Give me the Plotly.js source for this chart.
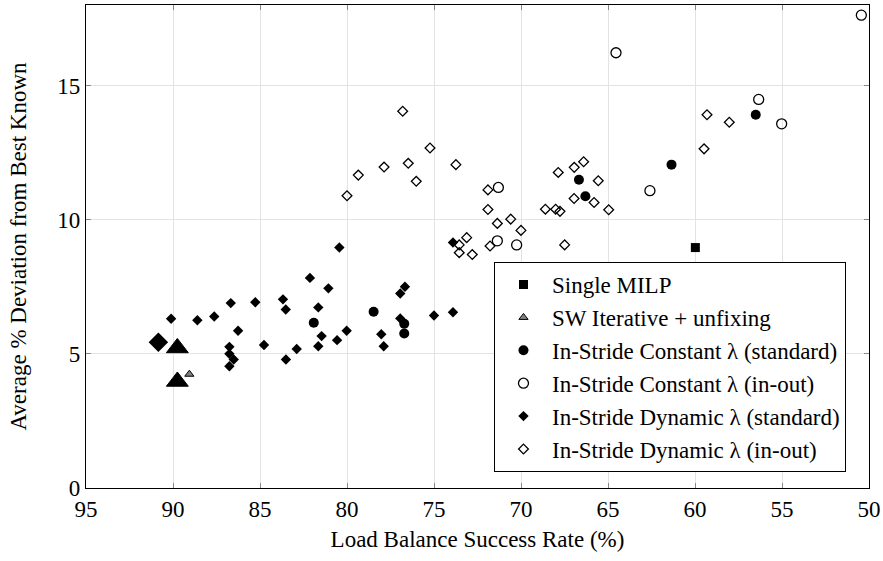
<!DOCTYPE html>
<html>
<head>
<meta charset="utf-8">
<script src="https://cdn.plot.ly/plotly-3.0.1.min.js"></script>
<style>
  html, body { margin: 0; padding: 0; background: #fff; }
  #chart { width: 883px; height: 561px; }
</style>
</head>
<body>
<div id="chart"></div>
<script>
// ---- data ----
const singleMilpX = [59.98];
const singleMilpY = [8.96];

const swIterX = [89.06];
const swIterY = [4.24];
const swIterBigX = [89.75, 89.75];
const swIterBigY = [5.22, 3.97];

const constStdX = [81.91, 78.47, 76.71, 76.71, 66.67, 66.30, 61.35, 56.51];
const constStdY = [6.16, 6.57, 6.12, 5.76, 11.49, 10.87, 12.05, 13.91];

const constInOutX = [71.36, 71.30, 70.25, 64.54, 62.59, 56.34, 55.02, 50.44];
const constInOutY = [9.21, 11.20, 9.06, 16.22, 11.08, 14.48, 13.57, 17.62];

const dynStdX = [90.11, 88.60, 87.63, 86.68, 86.26, 86.76, 86.76, 86.51, 86.76, 85.27,
                 84.77, 83.68, 83.52, 83.51, 82.89, 82.13, 81.65, 81.46, 81.65, 81.07,
                 80.57, 80.44, 80.02, 78.03, 77.89, 76.94, 76.67, 76.94, 75.00, 73.91, 73.91];
const dynStdY = [6.31, 6.25, 6.39, 6.89, 5.86, 5.26, 5.00, 4.79, 4.54, 6.92,
                 5.33, 7.03, 6.65, 4.79, 5.18, 7.83, 6.73, 5.66, 5.28, 7.44,
                 5.51, 8.96, 5.86, 5.73, 5.28, 7.25, 7.50, 6.32, 6.43, 6.55, 9.15];
const dynStdBigX = [90.84];
const dynStdBigY = [5.43];

const dynInOutX = [76.80, 80.00, 79.35, 77.87, 76.48, 76.02, 75.23, 73.74, 71.90, 71.90,
                   71.36, 71.78, 73.55, 73.55, 73.12, 72.80, 70.59, 70.00, 68.60, 68.01,
                   67.76, 67.86, 66.94, 66.40, 66.95, 65.80, 65.56, 64.96, 67.49, 59.31,
                   58.03, 59.48];
const dynInOutY = [14.04, 10.89, 11.66, 11.96, 12.10, 11.43, 12.67, 12.05, 11.11, 10.38,
                   9.86, 9.02, 9.06, 8.77, 9.33, 8.70, 10.02, 9.60, 10.39, 10.39,
                   10.31, 11.76, 11.95, 12.16, 10.79, 10.64, 11.45, 10.37, 9.06, 13.91,
                   13.63, 12.64];

const xTicks = [95, 90, 85, 80, 75, 70, 65, 60, 55, 50];
const yTicks = [0, 5, 10, 15];

const seriesNames = [
  "Single MILP",
  "SW Iterative + unfixing",
  "In-Stride Constant λ (standard)",
  "In-Stride Constant λ (in-out)",
  "In-Stride Dynamic λ (standard)",
  "In-Stride Dynamic λ (in-out)"
];

// ---- chart ----
const FONT = "Liberation Serif, Times New Roman, serif";
const base = {type: "scatter", mode: "markers", hoverinfo: "x+y"};

const traces = [
  Object.assign({}, base, {x: singleMilpX, y: singleMilpY, name: seriesNames[0],
    marker: {symbol: "square", size: 9, color: "#000", line: {width: 0}}}),
  Object.assign({}, base, {x: swIterX, y: swIterY, name: seriesNames[1],
    marker: {symbol: "triangle-up", size: 8, color: "#808080", line: {width: 1, color: "#000"}}}),
  Object.assign({}, base, {x: swIterBigX, y: swIterBigY, name: seriesNames[1], showlegend: false,
    marker: {symbol: "triangle-up", size: 19, color: "#000", line: {width: 1, color: "#000"}}}),
  Object.assign({}, base, {x: constStdX, y: constStdY, name: seriesNames[2],
    marker: {symbol: "circle", size: 10, color: "#000", line: {width: 0}}}),
  Object.assign({}, base, {x: constInOutX, y: constInOutY, name: seriesNames[3],
    marker: {symbol: "circle-open", size: 10, color: "#000", line: {width: 1.3, color: "#000"}}}),
  Object.assign({}, base, {x: dynStdX, y: dynStdY, name: seriesNames[4],
    marker: {symbol: "diamond", size: 8, color: "#000", line: {width: 0}}}),
  Object.assign({}, base, {x: dynStdBigX, y: dynStdBigY, name: seriesNames[4], showlegend: false,
    marker: {symbol: "diamond", size: 15, color: "#000", line: {width: 0}}}),
  Object.assign({}, base, {x: dynInOutX, y: dynInOutY, name: seriesNames[5],
    marker: {symbol: "diamond-open", size: 7.5, color: "#000", line: {width: 1.3, color: "#000"}}})
];

const axisCommon = {
  showline: true, linecolor: "#000", linewidth: 1.2, mirror: "ticks",
  ticks: "inside", ticklen: 5, tickcolor: "#888", tickwidth: 1,
  showgrid: true, gridcolor: "#e3e3e3", gridwidth: 1,
  zeroline: false,
  tickfont: {family: FONT, size: 23, color: "#000"}
};

const layout = {
  width: 883, height: 561,
  margin: {l: 86, r: 14, t: 5, b: 73},
  paper_bgcolor: "#fff", plot_bgcolor: "#fff",
  showlegend: true,
  xaxis: Object.assign({}, axisCommon, {
    range: [95, 50], tickmode: "array", tickvals: xTicks, ticktext: xTicks.map(String),
    title: {text: "Load Balance Success Rate (%)", font: {family: FONT, size: 23, color: "#000"}, standoff: 10}
  }),
  yaxis: Object.assign({}, axisCommon, {
    range: [0, 18], tickmode: "array", tickvals: yTicks, ticktext: yTicks.map(String),
    title: {text: "Average % Deviation from Best Known", font: {family: FONT, size: 23, color: "#000"}, standoff: 24}
  }),
  legend: {
    x: 0.9706, xanchor: "right", y: 0.033, yanchor: "bottom",
    bgcolor: "#fff", bordercolor: "#000", borderwidth: 1,
    font: {family: FONT, size: 23, color: "#000"},
    tracegroupgap: 0, itemsizing: "trace", itemwidth: 47
  }
};

Plotly.newPlot("chart", traces, layout, {displayModeBar: false, staticPlot: true});
</script>
</body>
</html>
